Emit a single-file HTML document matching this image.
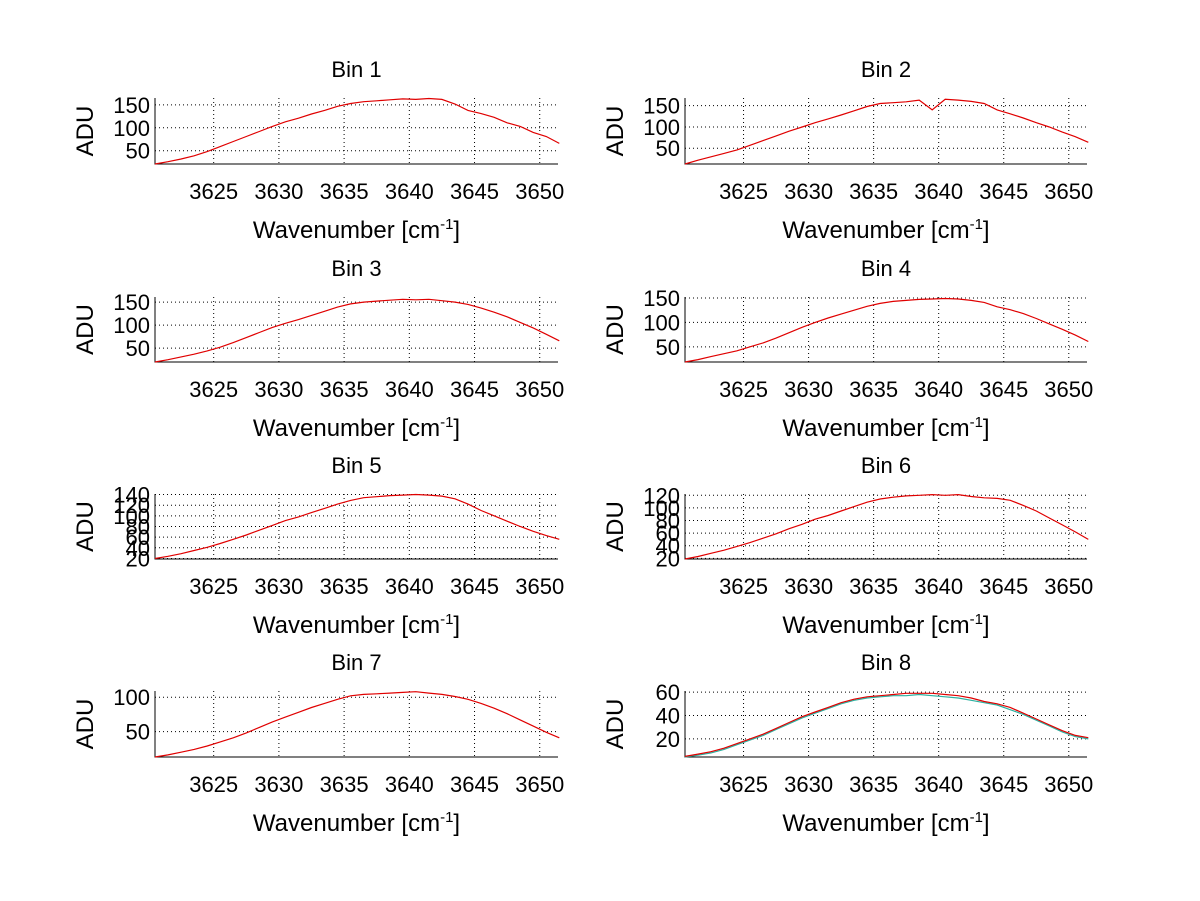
<!DOCTYPE html>
<html><head><meta charset="utf-8"><style>
body{margin:0;background:#fff;}
svg{display:block;font-family:"Liberation Sans",Arial,sans-serif;}
</style></head><body>
<svg id="fig" width="1200" height="901" viewBox="0 0 1200 901" xmlns="http://www.w3.org/2000/svg"></svg>
<script>
const wavenumbers = [3620.5,3621.5,3622.5,3623.5,3624.5,3625.5,3626.5,3627.5,3628.5,3629.5,3630.5,3631.5,3632.5,3633.5,3634.5,3635.5,3636.5,3637.5,3638.5,3639.5,3640.5,3641.5,3642.5,3643.5,3644.5,3645.5,3646.5,3647.5,3648.5,3649.5,3650.5,3651.5];
const xTicks = [3625,3630,3635,3640,3645,3650];
const bin1 = [21,26,32,39,48,59,70,81,92,103,113,121,130,138,147,153,157,159,161,163,162,164,162,152,138,131,123,111,103,90,81,66];
const bin2 = [13,22,30,38,46,57,68,79,90,100,110,119,128,138,148,155,157,159,163,140,165,163,160,155,140,131,121,110,100,88,77,64];
const bin3 = [20,25,31,37,44,52,62,73,84,95,104,112,121,130,139,146,150,152,154,156,155,156,153,150,145,137,128,118,106,94,80,66];
const bin4 = [19,24,30,36,42,50,58,68,79,90,100,109,117,125,133,139,143,145,147,148,149,148,145,141,132,126,118,108,97,86,74,61];
const bin5 = [20,24,29,35,41,48,56,64,73,82,91,98,106,114,122,129,134,136,138,139,140,139,137,132,122,110,100,90,80,71,63,56];
const bin6 = [19,23,28,33,39,45,52,59,67,74,82,88,95,102,109,114,117,119,120,121,120,121,118,116,115,112,104,95,84,73,62,50];
const bin7 = [13,16,20,24,29,35,41,48,56,64,71,78,85,91,97,102,104,105,106,107,108,106,104,101,97,91,84,76,67,58,49,41];
const bin8 = [5,7,9,12,16,20,24,29,34,39,43,47,51,54,56,57,58,59,59,59,58,57,55,52,50,47,42,37,32,27,23,21];
const bin8b = [4.5,6,8,11,15,19,23,28,33,38,42,46,50,53,55,56,57,57,58,57,56,55,53,51,49,45,41,36,31,26,22,20];
const yTicks1 = [50,100,150];
const yTicks5 = [20,40,60,80,100,120,140];
const yTicks6 = [20,40,60,80,100,120];
const yTicks7 = [50,100];
const yTicks8 = [20,40,60];
const yLims = [[21,165],[13,168],[20,161],[19,152],[19,141],[19,122],[13,109],[4.5,61]];
const series = [[bin1],[bin2],[bin3],[bin4],[bin5],[bin6],[bin7],[bin8b,bin8]];
const yTickSets = [yTicks1,yTicks1,yTicks1,yTicks1,yTicks5,yTicks6,yTicks7,yTicks8];
const XMIN=3620.5, XMAX=3651.4;
const NS="http://www.w3.org/2000/svg";
const fig=document.getElementById('fig');
function mk(tag,attrs,parent){const e=document.createElementNS(NS,tag);for(const k in attrs)e.setAttribute(k,attrs[k]);parent.appendChild(e);return e;}
const colsX=[[155,558],[685,1087]];
const rowsY=[[98,164],[297,362],[494,559],[691,757]];
for(let b=0;b<8;b++){
  const col=b%2,row=Math.floor(b/2);
  const [x0,x1]=colsX[col],[y0,y1]=rowsY[row];
  const [ymin,ymax]=yLims[b];
  const sx=v=>x0+(v-XMIN)/(XMAX-XMIN)*(x1-x0);
  const sy=v=>y1-(v-ymin)/(ymax-ymin)*(y1-y0);
  const g=mk('g',{},fig);
  
  
  xTicks.forEach(t=>{const l=mk('line',{x1:sx(t),x2:sx(t),y1:y0,y2:y1,stroke:'#000','stroke-width':1,'stroke-dasharray':'1,3'},g);
    
    const tx=mk('text',{x:sx(t),y:y1+35,'font-size':22,'text-anchor':'middle'},g);tx.textContent=t;
    });
  yTickSets[b].forEach(t=>{const l=mk('line',{x1:x0,x2:x1,y1:sy(t),y2:sy(t),stroke:'#000','stroke-width':1,'stroke-dasharray':'1,3'},g);
    
    const tx=mk('text',{x:x0-5,y:sy(t)+8,'font-size':22,'text-anchor':'end'},g);tx.textContent=t;
    });
  const ax=mk('path',{d:`M${x0},${y0}V${y1}H${x1}`,fill:'none',stroke:'#000','stroke-width':1},g);
  
  const colors=series[b].length>1?['#2bb0a0','#e00000']:['#e00000'];
  series[b].forEach((s,si)=>{
    const d=s.map((v,i)=>(i?'L':'M')+sx(wavenumbers[i]).toFixed(1)+','+sy(v).toFixed(1)).join('');
    const p=mk('path',{d:d,fill:'none',stroke:colors[si],'stroke-width':1.2},g);
    
  });
  const ti=mk('text',{x:(x0+x1)/2,y:y0-21,'font-size':22,'text-anchor':'middle'},g);ti.textContent='Bin '+(b+1);
  
  const xl=mk('text',{x:(x0+x1)/2,y:y1+74,'font-size':24,'text-anchor':'middle'},g);
  xl.innerHTML='Wavenumber [cm<tspan dy="-9" font-size="15">-1</tspan><tspan dy="9">]</tspan>';
  
  const cy=(y0+y1)/2, cx=x0-62;
  const yl=mk('text',{x:cx,y:cy,'font-size':24,'text-anchor':'middle',transform:`rotate(-90 ${cx} ${cy})`},g);yl.textContent='ADU';
  
}
</script>
</body></html>
